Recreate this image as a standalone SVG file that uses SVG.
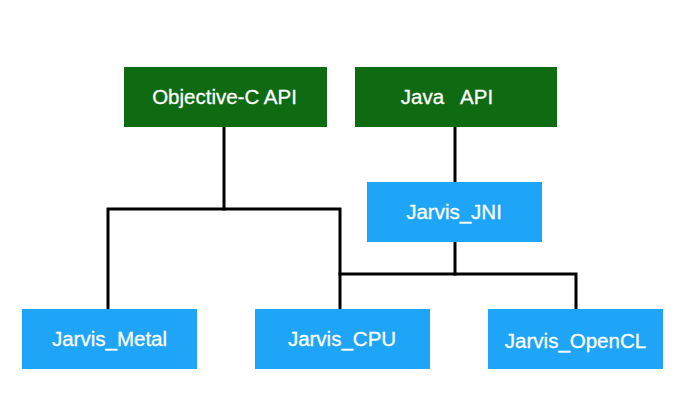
<svg xmlns="http://www.w3.org/2000/svg" width="692" height="408" viewBox="0 0 692 408">
<style>
.g{fill:#0f6b12}
.b{fill:#1ea5f8}
.t{fill:#fff;font-family:"Liberation Sans",Arial,sans-serif;font-size:20.5px;text-anchor:middle;white-space:pre;stroke:#fff;stroke-width:0.3}
.c{fill:none;stroke:#000;stroke-width:3;stroke-linecap:square}
</style>
<rect width="692" height="408" fill="#fff"/>
<g id="connectors">
<path class="c" d="M224 127 V209"/>
<path class="c" d="M108 308 V209 H340 V308"/>
<path class="c" d="M455 127 V181"/>
<path class="c" d="M455 242 V274"/>
<path class="c" d="M340 274 H576 V308"/>
</g>
<g id="objc"><rect class="g" x="124" y="67" width="203" height="60"/><text class="t" x="224.5" y="104">Objective-C API</text></g>
<g id="java"><rect class="g" x="355" y="67" width="202" height="60"/><text class="t" x="447" y="104" xml:space="preserve">Java   API</text></g>
<g id="jni"><rect class="b" x="367" y="182" width="175" height="60"/><text class="t" x="454" y="219">Jarvis_JNI</text></g>
<g id="metal"><rect class="b" x="22" y="309" width="175" height="60"/><text class="t" x="109.5" y="346">Jarvis_Metal</text></g>
<g id="cpu"><rect class="b" x="255" y="309" width="175" height="60"/><text class="t" x="342" y="346">Jarvis_CPU</text></g>
<g id="opencl"><rect class="b" x="488" y="309" width="175" height="60"/><text class="t" x="575.5" y="348">Jarvis_OpenCL</text></g>
</svg>
